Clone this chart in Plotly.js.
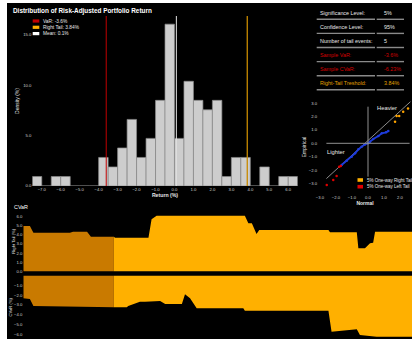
<!DOCTYPE html>
<html>
<head>
<meta charset="utf-8">
<script src="https://cdn.plot.ly/plotly-3.0.1.min.js"></script>
<style>
  html, body { margin: 0; padding: 0; background: #ffffff; width: 412px; height: 339px; overflow: hidden; }
  #chart { position: absolute; left: 7px; top: 3px; width: 405px; height: 336px; }
</style>
</head>
<body>
<div id="chart"></div>
<script>
// ---- Return distribution (bin centres, 0.5% wide) ----
const returnBins = [-7.25,-6.75,-6.25,-5.75,-5.25,-4.75,-4.25,-3.75,-3.25,-2.75,-2.25,-1.75,-1.25,-0.75,
                    -0.25,0.25,0.75,1.25,1.75,2.25,2.75,3.25,3.75,4.25,4.75,5.25,5.75,6.25];
const densityPct = [0.94,0,0.94,0.94,0,0,0,2.83,1.89,3.77,6.60,2.83,4.72,8.49,
                    16.04,4.72,10.38,8.49,7.55,8.49,0.94,2.83,2.83,0,1.89,0,0.94,0.94];
const histTicks = [-7,-6,-5,-4,-3,-2,-1,0,1,2,3,4,5,6];

// ---- Risk statistics ----
const significancePct = 5;
const confidencePct = 95;
const tailEvents = 5;
const varPct = -3.6;
const cvarPct = -6.23;
const rightTailPct = 3.84;
const meanPct = 0.1;

// ---- QQ plot (normal vs empirical quantiles) ----
const qqBodyNormal = [-1.65,-1.33,-1.02,-0.81,-0.60,-0.40,-0.19,0.00,0.13,0.33,0.65,0.86,1.13,1.27];
const qqBodyEmp    = [-1.62,-1.30,-1.00,-0.75,-0.45,-0.25,-0.08,0.00,0.12,0.32,0.54,0.75,0.82,0.92];
const qqLeftNormal = [-2.58,-2.17,-1.96,-1.80,-1.70];
const qqLeftEmp    = [-3.10,-2.74,-2.44,-1.75,-1.70];
const qqRightNormal = [1.69,1.79,1.95,2.20,2.50];
const qqRightEmp    = [1.61,2.04,2.04,2.36,2.60];
const qqRefNormal = [-2.60,2.65];
const qqRefEmp    = [-2.63,3.10];
const qqTicksX = [-3,-2,-1,0,1,2];
const qqTicksY = [-3,-2,-1,0,1,2,3];

// ---- Rolling CVaR (window index, %) ----
const warmupEnd = 23.3;
const rightT    = [0,1.7,2.6,12.0,12.8,16.4,17.4,23.3,23.6,32.2,33.0,34.3,57.0,57.9,58.8,60.0,60.7,78.5,78.9,85.8,86.2,87.9,89.2,90.0,90.5,100];
const rightCvar = [4.96,4.96,4.23,4.23,4.34,4.34,3.79,3.79,3.69,3.69,5.69,6.08,6.08,5.26,5.26,4.09,4.53,4.53,4.27,4.27,2.53,2.53,3.08,3.14,4.34,4.34];
const leftT     = [0,1.7,2.6,16.3,23.3,26.6,27.0,30.0,31.3,35.2,36.5,40.8,41.6,42.9,44.6,56.6,57.0,78.5,79.3,83.2,85.8,86.6,90.9,100];
const leftCvar  = [-2.32,-2.40,-3.10,-3.24,-3.24,-3.24,-3.10,-2.67,-2.67,-2.60,-2.90,-2.90,-1.91,-2.32,-3.34,-3.34,-3.58,-3.58,-5.72,-5.55,-5.48,-6.06,-6.23,-6.23];

// ---- Table rows ----
const tableLabels = ['Significance Level:','Confidence Level:','Number of tail events:','Sample VaR:','Sample CVaR:','Right-Tail Treshold:'];
const tableValues = [significancePct + '%', confidencePct + '%', String(tailEvents), varPct + '%', cvarPct + '%', rightTailPct + '%'];

const W = 405, H = 336;
const px = x => x / W;
const py = y => 1 - y / H;

const FONT = 'Liberation Sans, Arial, sans-serif';
const WHITE = '#e8e8e8';
const TICK = '#cfcfcf';
const RED = '#c00000';
const GOLD = '#c88a00';
const ORANGE = '#ffb000';
const DARK_ORANGE = '#c97a00';
const TABLE_COLORS = [WHITE, WHITE, WHITE, '#d40000', '#d40000', '#e0a000'];

function split(t, v, keepLow) {
  const xs = [], ys = [];
  t.forEach((ti, i) => {
    if (keepLow ? ti <= warmupEnd : ti >= warmupEnd) { xs.push(ti); ys.push(v[i]); }
  });
  return {x: xs, y: ys};
}

const traces = [];

// Histogram bars
traces.push({
  type: 'bar', x: returnBins, y: densityPct, width: 0.5,
  marker: {color: '#cdcdcd', line: {color: '#8a8a8a', width: 0.7}},
  xaxis: 'x', yaxis: 'y', hoverinfo: 'x+y'
});

// QQ reference line
traces.push({
  type: 'scatter', mode: 'lines', x: qqRefNormal, y: qqRefEmp,
  line: {color: '#8c8c8c', width: 1}, xaxis: 'x2', yaxis: 'y2'
});
// QQ body
traces.push({
  type: 'scatter', mode: 'lines+markers', x: qqBodyNormal, y: qqBodyEmp,
  line: {color: '#1e3cdc', width: 1.8}, marker: {color: '#1e3cdc', size: 2.5},
  xaxis: 'x2', yaxis: 'y2'
});
traces.push({
  type: 'scatter', mode: 'markers', x: qqLeftNormal, y: qqLeftEmp,
  marker: {color: '#e00000', size: 2.5}, xaxis: 'x2', yaxis: 'y2'
});
traces.push({
  type: 'scatter', mode: 'markers', x: qqRightNormal, y: qqRightEmp,
  marker: {color: '#ffa500', size: 2.5}, xaxis: 'x2', yaxis: 'y2'
});

// Rolling CVaR areas
[[rightT, rightCvar, 'x3', 'y3'], [leftT, leftCvar, 'x4', 'y4']].forEach(([t, v, xa, ya]) => {
  const lo = split(t, v, true), hi = split(t, v, false);
  traces.push({type: 'scatter', mode: 'lines', x: lo.x, y: lo.y, fill: 'tozeroy',
               fillcolor: DARK_ORANGE, line: {width: 0, color: DARK_ORANGE}, xaxis: xa, yaxis: ya});
  traces.push({type: 'scatter', mode: 'lines', x: hi.x, y: hi.y, fill: 'tozeroy',
               fillcolor: ORANGE, line: {width: 0, color: ORANGE}, xaxis: xa, yaxis: ya});
});

const tickFont = {family: FONT, size: 4.2, color: TICK};
const baseAxis = {showgrid: false, zeroline: false, showline: false, ticks: '', tickfont: tickFont, fixedrange: true};

const shapes = [];
const annotations = [];

// Threshold lines on the histogram
[[varPct, RED, 1], [rightTailPct, GOLD, 1.3], [meanPct, '#e0e0e0', 1]].forEach(([v, c, w]) => {
  shapes.push({type: 'line', xref: 'x', yref: 'y domain', x0: v, x1: v, y0: 0, y1: 1,
               line: {color: c, width: w}});
});

// Histogram legend
const legendItems = [[RED, 'VaR: ' + varPct + '%'], [ORANGE, 'Right Tail: ' + rightTailPct + '%'], ['#ffffff', 'Mean: ' + meanPct + '%']];
legendItems.forEach(([c, label], i) => {
  const yc = 18 + i * 6.3;
  shapes.push({type: 'rect', xref: 'paper', yref: 'paper', x0: px(25.7), x1: px(32.3),
               y0: py(yc + 1.6), y1: py(yc - 1.6), fillcolor: c, line: {width: 0}});
  annotations.push({xref: 'paper', yref: 'paper', x: px(34), y: py(yc), xanchor: 'left', yanchor: 'middle',
                    text: label, showarrow: false, font: {family: FONT, size: 4.8, color: WHITE}});
});

// Title
annotations.push({xref: 'paper', yref: 'paper', x: px(4), y: py(8), xanchor: 'left', yanchor: 'middle',
                  text: '<b>Distribution of Risk-Adjusted Portfolio Return</b>', showarrow: false,
                  font: {family: FONT, size: 6.4, color: '#ffffff'}});

// Statistics table
tableLabels.forEach((lab, i) => {
  const yc = 10.3 + i * 14.0;
  annotations.push({xref: 'paper', yref: 'paper', x: px(311.3), y: py(yc), xanchor: 'left', yanchor: 'middle',
                    text: lab, showarrow: false, font: {family: FONT, size: 5.4, color: TABLE_COLORS[i]}});
  annotations.push({xref: 'paper', yref: 'paper', x: px(374.7), y: py(yc), xanchor: 'left', yanchor: 'middle',
                    text: tableValues[i], showarrow: false, font: {family: FONT, size: 5.4, color: TABLE_COLORS[i]}});
  const ys = 16.3 + i * 14.1;
  shapes.push({type: 'line', xref: 'paper', yref: 'paper', x0: px(309.7), x1: px(368), y0: py(ys), y1: py(ys),
               line: {color: '#8a8a8a', width: 1.4}});
  shapes.push({type: 'line', xref: 'paper', yref: 'paper', x0: px(369.7), x1: px(397), y0: py(ys), y1: py(ys),
               line: {color: '#8a8a8a', width: 1.4}});
});

// QQ crosshair
shapes.push({type: 'line', xref: 'x2', yref: 'y2', x0: qqRefNormal[0], x1: 2.6, y0: 0, y1: 0, line: {color: '#909090', width: 1}});
shapes.push({type: 'line', xref: 'x2', yref: 'y2', x0: 0, x1: 0, y0: -2.49, y1: 2.73, line: {color: '#909090', width: 1}});
annotations.push({xref: 'x2', yref: 'y2', x: 1.17, y: 2.6, text: 'Heavier', showarrow: false,
                  font: {family: FONT, size: 5.8, color: WHITE}});
annotations.push({xref: 'x2', yref: 'y2', x: -1.98, y: -0.63, text: 'Lighter', showarrow: false,
                  font: {family: FONT, size: 5.8, color: WHITE}});
// QQ legend
[[ORANGE, '5% One-way Right Tail'], ['#e00000', '5% One-way Left Tail']].forEach(([c, label], i) => {
  const yc = 177 + i * 6.7;
  shapes.push({type: 'rect', xref: 'paper', yref: 'paper', x0: px(350.5), x1: px(356),
               y0: py(yc + 1.8), y1: py(yc - 1.8), fillcolor: c, line: {width: 0}});
  annotations.push({xref: 'paper', yref: 'paper', x: px(358), y: py(yc), xanchor: 'left', yanchor: 'middle',
                    text: label, showarrow: false, font: {family: FONT, size: 4.5, color: WHITE}});
});

// Rolling CVaR label
annotations.push({xref: 'paper', yref: 'paper', x: px(5), y: py(204), xanchor: 'left', yanchor: 'middle',
                  text: 'CVaR', showarrow: false, font: {family: FONT, size: 5.4, color: '#ffffff'}});

const layout = {
  width: W, height: H,
  margin: {l: 0, r: 0, t: 0, b: 0, pad: 0},
  paper_bgcolor: '#000000', plot_bgcolor: '#000000',
  showlegend: false,
  font: {family: FONT, color: WHITE},
  xaxis: Object.assign({}, baseAxis, {
    domain: [px(25.3), px(290.7)], range: [-7.5, 6.5], anchor: 'y',
    tickvals: histTicks, tickformat: '.1f',
    title: {text: '<b>Return (%)</b>', font: {family: FONT, size: 5.2, color: WHITE}, standoff: 2}
  }),
  yaxis: Object.assign({}, baseAxis, {
    domain: [py(183), py(13)], range: [0, 16.85], anchor: 'x',
    tickvals: [0, 5, 10, 15], tickformat: '.1f',
    title: {text: 'Density (%)', font: {family: FONT, size: 5, color: WHITE}, standoff: 3}
  }),
  xaxis2: Object.assign({}, baseAxis, {
    domain: [px(311), 1], range: [-3.125, 2.75], anchor: 'y2',
    tickvals: qqTicksX, tickformat: '.1f',
    title: {text: '<b>Normal</b>', font: {family: FONT, size: 5, color: WHITE}, standoff: 2}
  }),
  yaxis2: Object.assign({}, baseAxis, {
    domain: [py(191), py(97)], range: [-3.78, 3.23], anchor: 'x2',
    tickvals: qqTicksY, tickformat: '.1f',
    title: {text: 'Empirical', font: {family: FONT, size: 5, color: WHITE}, standoff: 1}
  }),
  xaxis3: Object.assign({}, baseAxis, {
    domain: [px(16.3), 1], range: [0, 100], anchor: 'y3', showticklabels: false
  }),
  yaxis3: Object.assign({}, baseAxis, {
    domain: [py(268.5), py(208)], range: [0, 6.6], anchor: 'x3',
    tickvals: [0, 1, 2, 3, 4, 5, 6], tickformat: '.1f',
    title: {text: 'Right Tail (%)', font: {family: FONT, size: 4.2, color: WHITE}, standoff: 1}
  }),
  xaxis4: Object.assign({}, baseAxis, {
    domain: [px(16.3), 1], range: [0, 100], anchor: 'y4', showticklabels: false
  }),
  yaxis4: Object.assign({}, baseAxis, {
    domain: [0, py(272.5)], range: [-6.47, 0], anchor: 'x4',
    tickvals: [-6, -5, -4, -3, -2, -1], tickformat: '.1f',
    title: {text: 'CVaR (%)', font: {family: FONT, size: 4.2, color: WHITE}, standoff: 1}
  }),
  shapes: shapes,
  annotations: annotations
};

Plotly.newPlot('chart', traces, layout, {displayModeBar: false, staticPlot: true});
</script>
</body>
</html>
